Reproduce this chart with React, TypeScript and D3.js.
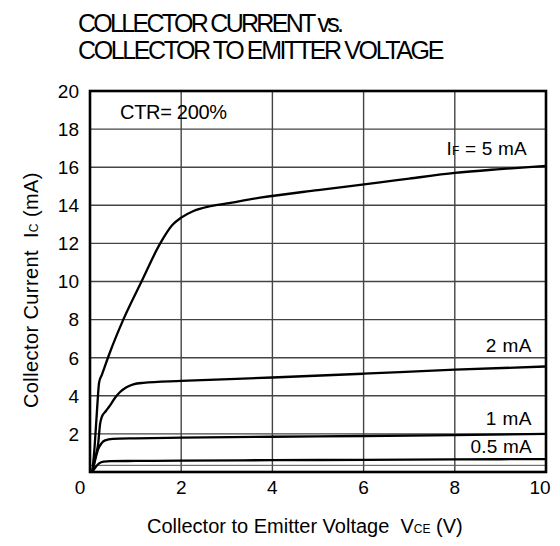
import React from 'react';
import * as d3 from 'd3';

const titleLines = ['COLLECTOR CURRENT vs.', 'COLLECTOR TO EMITTER VOLTAGE'];
const titleSpacing = [-2.7, -2.4];
const xTicks = [0, 2, 4, 6, 8, 10];
const yTicks = [2, 4, 6, 8, 10, 12, 14, 16, 18, 20];
const xGrid = [2, 4, 6, 8];
const yGrid = [2, 4, 6, 8, 10, 12, 14, 16, 18];

// [VCE (V), IC (mA)]
const curveIF5: [number, number][] = [
  [0.05, 0], [0.1, 1.3], [0.15, 3.1], [0.2, 4.7], [0.26, 5.1], [0.44, 6.3],
  [0.73, 8.0], [1.13, 10.0], [1.54, 12.0], [1.8, 12.95], [2.0, 13.35],
  [2.27, 13.7], [2.63, 13.95], [3.0, 14.1], [3.73, 14.4], [5, 14.8],
  [6.36, 15.2], [7, 15.4], [8, 15.7], [9, 15.9], [10, 16.07],
];
const curveIF2: [number, number][] = [
  [0.05, 0], [0.12, 0.8], [0.18, 1.5], [0.22, 2.5], [0.26, 2.9], [0.35, 3.2],
  [0.44, 3.5], [0.55, 3.9], [0.66, 4.2], [0.8, 4.45], [0.95, 4.6],
  [1.17, 4.68], [2, 4.78], [4, 4.96], [6, 5.16], [8, 5.37], [10, 5.54],
];
const curveIF1: [number, number][] = [
  [0.05, 0], [0.12, 0.7], [0.18, 1.2], [0.25, 1.5], [0.33, 1.66], [0.5, 1.74],
  [1, 1.77], [2, 1.8], [4, 1.85], [6, 1.89], [8, 1.94], [10, 2.0],
];
const curveIF05: [number, number][] = [
  [0.05, 0], [0.12, 0.25], [0.2, 0.45], [0.3, 0.54], [0.45, 0.57], [1, 0.58],
  [2, 0.6], [4, 0.62], [6, 0.64], [8, 0.66], [10, 0.68],
];
const curves = [curveIF5, curveIF2, curveIF1, curveIF05];

const ctrText = 'CTR= 200%';
const curveLabels = ['2 mA', '1 mA', '0.5 mA'];

const W = 560;
const H = 546;
const FONT = '"Liberation Sans", Arial, sans-serif';

export default function App() {
  const x = d3.scaleLinear().domain([0, 10]).range([90, 546]);
  const y = d3.scaleLinear().domain([0, 20]).range([472, 91]);
  const line = d3
    .line<[number, number]>()
    .x((d) => x(d[0]))
    .y((d) => y(d[1]))
    .curve(d3.curveMonotoneX);

  return (
    <svg
      width={W}
      height={H}
      style={{ position: 'absolute', left: 0, top: 0, background: '#fff' }}
      fontFamily={FONT}
    >
      <rect x={0} y={0} width={W} height={H} fill="#fff" />
      {titleLines.map((t, i) => (
        <text key={t} x={78} y={32 + i * 27} fontSize={25} letterSpacing={titleSpacing[i]} fill="#000">
          {t}
        </text>
      ))}
      {/* grid */}
      {xGrid.map((v) => (
        <line key={'gx' + v} x1={x(v)} x2={x(v)} y1={y(0)} y2={y(20)} stroke="#444" strokeWidth={1.4} />
      ))}
      {yGrid.map((v) => (
        <line key={'gy' + v} x1={x(0)} x2={x(10)} y1={y(v)} y2={y(v)} stroke="#444" strokeWidth={1.4} />
      ))}
      <line x1={x(0)} x2={x(10)} y1={y(0.35)} y2={y(0.35)} stroke="#555" strokeWidth={1} />
      {/* curves */}
      {curves.map((c, i) => (
        <path key={'c' + i} d={line(c) || ''} fill="none" stroke="#000" strokeWidth={2.3} strokeLinejoin="round" />
      ))}
      {/* frame */}
      <rect x={x(0)} y={y(20)} width={x(10) - x(0)} height={y(0) - y(20)} fill="none" stroke="#000" strokeWidth={2.6} />
      {/* tick labels */}
      {yTicks.map((v) => (
        <text key={'yt' + v} x={79} y={y(v)} dy="0.36em" textAnchor="end" fontSize={19}>
          {v}
        </text>
      ))}
      {xTicks.map((v) => (
        <text
          key={'xt' + v}
          x={x(v) + (v === 0 ? -10 : v === 10 ? -6 : 0)}
          y={494}
          textAnchor="middle"
          fontSize={19}
        >
          {v}
        </text>
      ))}
      {/* annotations */}
      <text x={120} y={119} fontSize={20} letterSpacing={-0.3}>
        {ctrText}
      </text>
      <text x={527} y={155} fontSize={19} textAnchor="end" letterSpacing={0.2} style={{ whiteSpace: 'pre' }}>
        I<tspan fontSize={12}>F</tspan>{' = 5 mA'}
      </text>
      <text x={532} y={352} fontSize={19} textAnchor="end" letterSpacing={0.5} style={{ whiteSpace: 'pre' }}>
        {curveLabels[0]}
      </text>
      <text x={532} y={425} fontSize={19} textAnchor="end" letterSpacing={0.5} style={{ whiteSpace: 'pre' }}>
        {curveLabels[1]}
      </text>
      <text x={532} y={453} fontSize={19} textAnchor="end" letterSpacing={0.2} style={{ whiteSpace: 'pre' }}>
        {curveLabels[2]}
      </text>
      {/* axis titles */}
      <text x={147} y={533} fontSize={20} letterSpacing={0} style={{ whiteSpace: 'pre' }}>
        {'Collector to Emitter Voltage  V'}
        <tspan fontSize={12}>CE</tspan>
        {' (V)'}
      </text>
      <text
        transform={`translate(38,408) rotate(-90)`}
        fontSize={20}
        letterSpacing={0.4}
        style={{ whiteSpace: 'pre' }}
      >
        {'Collector Current  I'}
        <tspan fontSize={12}>C</tspan>
        {' (mA)'}
      </text>
    </svg>
  );
}
